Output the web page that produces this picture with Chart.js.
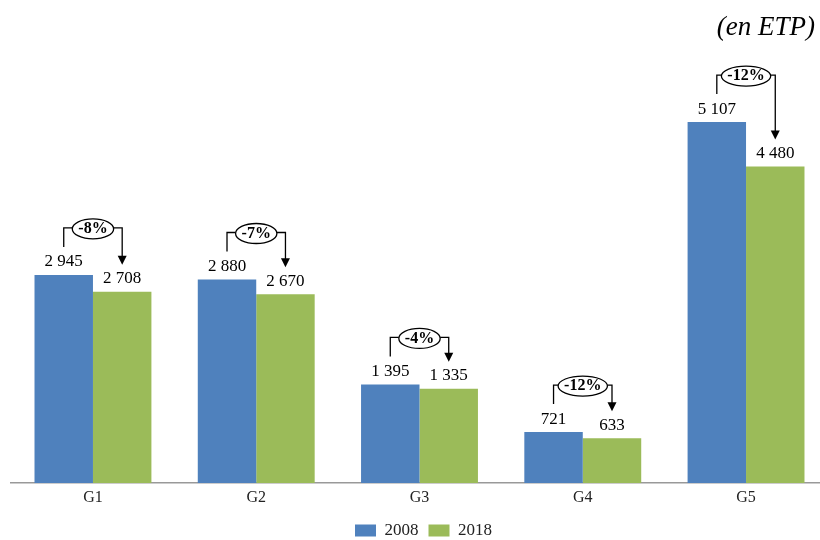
<!DOCTYPE html>
<html>
<head>
<meta charset="utf-8">
<script src="https://cdn.jsdelivr.net/npm/chart.js@4"></script>
<style>
  html, body { margin: 0; padding: 0; background: #fff; overflow: hidden; }
  #wrap { width: 820px; height: 549px; }
</style>
</head>
<body>
<div id="wrap"><canvas id="chart"></canvas></div>
<script>
const categories = ['G1', 'G2', 'G3', 'G4', 'G5'];
const seriesNames = ['2008', '2018'];
const values2008 = [2945, 2880, 1395, 721, 5107];
const values2018 = [2708, 2670, 1335, 633, 4480];
const unitLabel = '(en ETP)';

const FONT = "'Liberation Serif', 'Times New Roman', serif";

// 2 945 style thousands separator
function fmt(n) {
  return String(n).replace(/\B(?=(\d{3})+(?!\d))/g, ' ');
}

function pctChange(a, b) {
  return Math.round((b - a) / a * 100) + '%';
}

// groups sit on a numeric x axis so the last group can run close to the edge
const toPoints = vals => vals.map((v, i) => ({ x: i, y: v }));

// nudge the legend a little right of the canvas centre
const legendShift = {
  id: 'legendShift',
  afterLayout(chart) {
    chart.legend.left += 8;
    chart.legend.right += 8;
  }
};

// value labels, the bracket arrows with the % bubble, and the unit caption
const overlay = {
  id: 'overlay',
  afterDatasetsDraw(chart) {
    const ctx = chart.ctx;
    const m0 = chart.getDatasetMeta(0).data;
    const m1 = chart.getDatasetMeta(1).data;
    ctx.save();
    ctx.fillStyle = '#000';
    ctx.strokeStyle = '#000';
    ctx.textAlign = 'center';
    ctx.textBaseline = 'middle';

    categories.forEach((c, i) => {
      const b = m0[i], g = m1[i];
      ctx.font = '17px ' + FONT;
      ctx.fillText(fmt(values2008[i]), b.x, b.y - 13);
      ctx.fillText(fmt(values2018[i]), g.x, g.y - 13);

      const hy = b.y - 47;
      const cx = (b.x + g.x) / 2;
      const txt = pctChange(values2008[i], values2018[i]);
      ctx.font = 'bold 16px ' + FONT;
      const rx = ctx.measureText(txt).width / 2 + 6;
      const ry = 10;
      const tipY = g.y - 27;

      ctx.lineWidth = 1.3;
      ctx.beginPath();
      ctx.moveTo(b.x, b.y - 28);
      ctx.lineTo(b.x, hy);
      ctx.lineTo(cx - rx, hy);
      ctx.moveTo(cx + rx, hy);
      ctx.lineTo(g.x, hy);
      ctx.lineTo(g.x, tipY - 8);
      ctx.stroke();

      ctx.beginPath();
      ctx.moveTo(g.x - 4.5, tipY - 9);
      ctx.lineTo(g.x + 4.5, tipY - 9);
      ctx.lineTo(g.x, tipY);
      ctx.closePath();
      ctx.fill();

      ctx.beginPath();
      ctx.ellipse(cx, hy + 1, rx, ry, 0, 0, Math.PI * 2);
      ctx.fillStyle = '#fff';
      ctx.fill();
      ctx.stroke();
      ctx.fillStyle = '#000';
      ctx.fillText(txt, cx, hy + 1);
    });

    ctx.font = 'italic 27px ' + FONT;
    ctx.textAlign = 'right';
    ctx.fillText(unitLabel, 815, 28);
    ctx.restore();
  }
};

new Chart(document.getElementById('chart'), {
  type: 'bar',
  data: {
    datasets: [
      { label: seriesNames[0], data: toPoints(values2008), backgroundColor: '#4F81BD' },
      { label: seriesNames[1], data: toPoints(values2018), backgroundColor: '#9BBB59' }
    ]
  },
  options: {
    responsive: true,
    maintainAspectRatio: false,
    animation: false,
    layout: { padding: { top: 59, left: 11, right: 0, bottom: 0 } },
    datasets: { bar: { categoryPercentage: 0.716, barPercentage: 1 } },
    scales: {
      x: {
        type: 'linear',
        offset: false,
        min: -0.502,
        max: 4.453,
        grid: { display: false, drawTicks: false, offset: false },
        border: { color: '#999', width: 1.5 },
        afterBuildTicks(scale) {
          scale.ticks = categories.map((c, i) => ({ value: i }));
        },
        ticks: {
          color: '#222',
          font: { family: FONT, size: 16 },
          padding: 5,
          callback: v => categories[v]
        },
        afterFit(scale) { scale.height = 29; }
      },
      y: { display: false, min: 0, max: 6000 }
    },
    plugins: {
      legend: {
        position: 'bottom',
        labels: {
          boxWidth: 21, boxHeight: 12, padding: 10,
          color: '#222', font: { family: FONT, size: 17 }
        }
      },
      tooltip: { enabled: false }
    }
  },
  plugins: [overlay, legendShift]
});
</script>
</body>
</html>
